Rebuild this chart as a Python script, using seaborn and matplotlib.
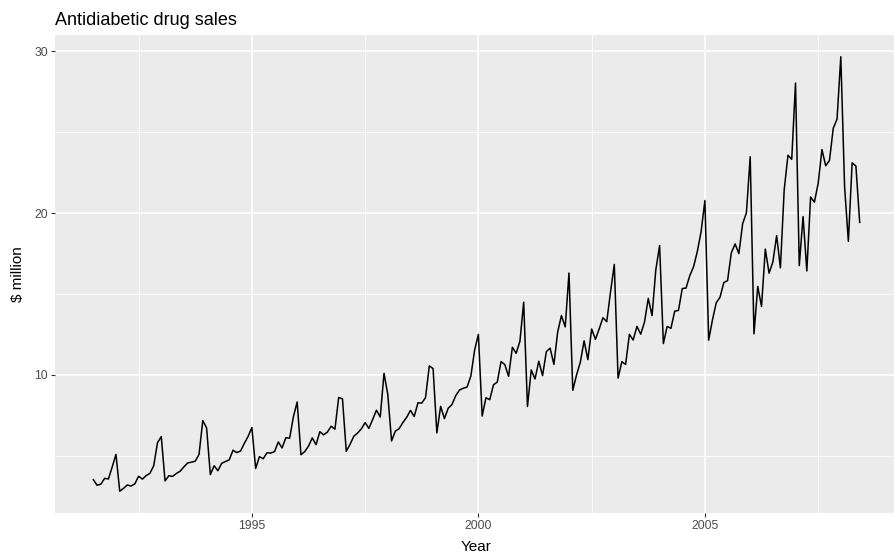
import numpy as np
import pandas as pd
import matplotlib
matplotlib.use("Agg")
import matplotlib.pyplot as plt
import seaborn as sns
from matplotlib.ticker import FixedLocator

# Monthly antidiabetic drug sales ($ million), Jul 1991 - Jun 2008
sales = [
    3.53, 3.18, 3.25, 3.61, 3.57, 4.31,
    5.09, 2.81, 2.99, 3.20, 3.13, 3.27, 3.74, 3.56, 3.78, 3.92, 4.39, 5.81,
    6.19, 3.45, 3.77, 3.73, 3.91, 4.05, 4.32, 4.56, 4.61, 4.67, 5.09, 7.18,
    6.73, 3.84, 4.39, 4.08, 4.54, 4.65, 4.75, 5.35, 5.20, 5.30, 5.77, 6.20,
    6.75, 4.22, 4.95, 4.82, 5.19, 5.17, 5.26, 5.86, 5.49, 6.12, 6.09, 7.42,
    8.33, 5.07, 5.26, 5.60, 6.11, 5.69, 6.49, 6.30, 6.47, 6.83, 6.65, 8.61,
    8.52, 5.28, 5.71, 6.21, 6.41, 6.67, 7.05, 6.70, 7.25, 7.82, 7.40, 10.10,
    8.80, 5.92, 6.53, 6.68, 7.06, 7.38, 7.81, 7.43, 8.28, 8.26, 8.60, 10.56,
    10.39, 6.42, 8.06, 7.30, 7.94, 8.17, 8.72, 9.07, 9.18, 9.25, 9.93, 11.53,
    12.51, 7.46, 8.59, 8.47, 9.39, 9.56, 10.83, 10.64, 9.91, 11.71, 11.34, 12.08,
    14.50, 8.05, 10.31, 9.75, 10.85, 9.96, 11.44, 11.66, 10.65, 12.65, 13.67, 12.97,
    16.30, 9.05, 10.00, 10.79, 12.11, 10.95, 12.84, 12.20, 12.85, 13.54, 13.29, 15.13,
    16.83, 9.80, 10.82, 10.65, 12.51, 12.16, 13.00, 12.52, 13.27, 14.73, 13.67, 16.50,
    18.00, 11.94, 13.00, 12.88, 13.94, 13.99, 15.34, 15.37, 16.14, 16.69, 17.64, 18.87,
    20.78, 12.15, 13.40, 14.46, 14.80, 15.71, 15.83, 17.55, 18.10, 17.50, 19.35, 20.03,
    23.49, 12.54, 15.47, 14.23, 17.78, 16.29, 16.98, 18.61, 16.62, 21.43, 23.58, 23.33,
    28.04, 16.76, 19.79, 16.43, 21.00, 20.68, 21.83, 23.93, 22.93, 23.26, 25.25, 25.81,
    29.67, 21.65, 18.26, 23.11, 22.91, 19.43,
]
start_year = 1991.5
x_major = [1995, 2000, 2005]
x_minor = [1992.5, 1997.5, 2002.5, 2007.5]
y_major = [10, 20, 30]
y_minor = [5, 15, 25]

df = pd.DataFrame({
    "time": start_year + np.arange(len(sales)) / 12,
    "sales": sales,
})

plt.rcParams['font.family'] = ['Liberation Sans', 'DejaVu Sans']

W, H = 895, 555
fig = plt.figure(figsize=(W / 100, H / 100), dpi=100)
# panel runs from x=55 to just past the right edge, y=35..513
ax = fig.add_axes([55 / W, (H - 513) / H, 843 / W, 478 / H])
ax.set_facecolor("#EBEBEB")

sns.lineplot(data=df, x="time", y="sales", ax=ax, color="black", linewidth=1.1)

# ggplot-style 5% expansion
rng = df["time"].max() - df["time"].min()
ax.set_xlim(df["time"].min() - 0.05 * rng, df["time"].max() + 0.05 * rng)
yr = df["sales"].max() - df["sales"].min()
ax.set_ylim(df["sales"].min() - 0.05 * yr, df["sales"].max() + 0.05 * yr)

ax.xaxis.set_major_locator(FixedLocator(x_major))
ax.xaxis.set_minor_locator(FixedLocator(x_minor))
ax.yaxis.set_major_locator(FixedLocator(y_major))
ax.yaxis.set_minor_locator(FixedLocator(y_minor))
ax.grid(which="major", color="white", linewidth=1.1)
ax.grid(which="minor", color="white", linewidth=0.55)
ax.set_axisbelow(True)
for s in ax.spines.values():
    s.set_visible(False)
ax.tick_params(which="major", length=3, color="#333333", labelsize=8.8, labelcolor="#4D4D4D", pad=2)
ax.tick_params(which="minor", length=0)

ax.set_xlabel("Year", fontsize=11, labelpad=6)
ax.set_ylabel("$ million", fontsize=11, labelpad=7)
ax.set_title("Antidiabetic drug sales", loc="left", fontsize=13, pad=7)

fig.savefig("out.png", dpi=100)
